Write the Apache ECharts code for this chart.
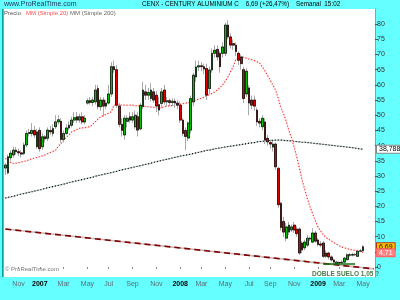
<!DOCTYPE html>
<html><head><meta charset="utf-8">
<script src="https://cdn.jsdelivr.net/npm/echarts@6/dist/echarts.min.js"></script>
<style>html,body{margin:0;padding:0;background:#66ffff}#c{width:400px;height:300px}</style>
</head><body><div id="c"></div>
<script>
// ---- data (weekly candles, CENX) ----
const startDate = [2006, 9, 2];   // first week (Mon 2 Oct 2006)
const weekCount = 140;            // categories on the axis (incl. empty weeks at right)
const opens  = [32.6,31.0,36.0,36.9,38.5,38.0,37.6,37.4,40.2,44.0,44.0,45.0,39.6,45.0,39.6,42.9,42.4,45.0,44.0,46.2,
  47.8,48.0,42.0,44.0,45.8,46.7,48.4,49.5,48.4,49.5,47.8,54.0,54.8,54.2,54.4,58.8,52.8,55.0,53.0,54.0,
  57.0,66.0,65.0,53.0,47.0,43.5,48.0,49.5,48.4,46.2,49.5,45.5,52.8,57.7,56.6,55.5,57.7,56.6,53.5,53.9,
  58.3,54.4,54.8,54.2,54.6,54.0,53.3,48.4,45.0,42.5,45.1,54.4,62.6,65.9,66.3,66.0,65.4,58.8,64.9,70.4,
  71.7,70.4,70.4,70.4,79.7,75.8,73.6,73.1,70.4,69.2,65.0,57.0,59.0,55.0,55.0,51.7,48.0,46.2,47.8,42.4,
  41.0,39.5,40.5,32.5,21.0,15.0,9.5,11.5,12.2,13.8,12.5,12.5,7.9,6.3,7.2,9.5,8.2,11.2,8.9,7.6,
  7.9,3.5,4.6,3.3,2.3,1.1,1.5,1.4,1.6,2.4,4.0,3.9,4.1,3.5,5.2,5.3];
const closes = [33.6,36.3,37.5,38.5,38.0,37.6,37.2,40.2,44.0,44.3,45.0,43.5,44.5,39.0,42.9,42.2,45.1,44.5,45.6,47.8,
  48.5,42.0,44.0,45.8,46.7,48.4,49.2,48.4,49.5,47.8,49.0,54.8,54.2,55.0,58.3,52.8,55.0,53.0,54.0,57.0,
  66.0,65.0,53.3,47.0,45.0,49.0,49.0,48.4,49.5,50.0,45.1,53.3,58.3,56.6,57.5,58.3,55.0,53.0,51.7,57.7,
  54.4,54.8,54.2,54.6,54.0,53.3,48.4,44.0,43.0,47.4,55.5,63.2,65.9,66.3,66.0,65.2,56.6,64.9,70.4,71.4,
  69.2,66.0,72.5,79.7,75.8,73.1,73.1,71.0,68.1,67.0,55.5,64.5,54.0,53.3,53.0,47.8,47.4,49.0,41.8,41.2,
  40.5,40.5,33.0,20.5,13.0,11.5,13.2,13.8,13.2,12.2,11.0,4.6,5.6,8.2,9.5,9.2,11.2,8.5,7.4,7.2,
  3.5,4.6,3.3,2.3,1.6,1.6,1.3,1.6,2.9,4.0,3.9,4.1,4.0,5.2,5.3,6.69];
const lows   = [30.3,30.5,35.0,36.0,37.0,36.5,36.0,36.8,39.5,43.0,43.0,42.5,39.0,38.0,38.5,41.0,41.5,43.5,43.0,45.5,
  47.0,41.0,41.0,43.5,45.0,46.0,47.5,47.5,47.5,47.0,47.0,53.5,53.5,53.0,53.5,52.0,51.5,49.5,52.0,53.5,
  56.0,64.0,52.5,46.0,43.0,42.0,46.0,47.5,47.5,45.5,43.0,45.0,52.0,55.0,55.0,54.5,54.0,51.0,50.0,52.5,
  53.5,53.0,53.0,53.0,52.5,52.0,47.5,43.0,38.5,41.5,44.0,53.0,61.0,64.5,64.5,63.5,55.0,57.0,64.0,69.0,
  68.0,64.0,69.0,69.5,75.0,72.0,71.5,69.5,66.5,65.0,54.0,56.0,50.0,52.0,51.5,46.5,46.0,45.0,40.5,40.0,
  39.0,38.0,32.0,19.5,12.0,9.9,8.5,10.5,11.5,11.2,10.0,4.0,4.5,5.5,6.5,8.5,7.8,8.0,6.8,6.5,
  3.0,3.0,2.5,1.8,1.2,1.05,1.05,1.1,1.3,2.2,3.4,3.5,3.6,3.3,4.9,5.2];
const highs  = [34.2,37.0,38.5,39.6,39.5,39.0,38.5,41.0,45.0,45.5,47.4,46.5,45.5,46.0,44.0,43.5,46.0,46.5,47.0,50.0,
  50.0,49.0,45.0,47.0,48.0,49.5,51.0,51.0,50.5,51.0,50.0,55.5,56.0,56.0,60.0,60.0,56.0,56.0,55.0,60.0,
  67.5,68.0,66.5,54.0,49.0,50.0,50.0,51.0,51.0,51.5,51.0,54.0,61.0,60.0,59.0,60.5,59.0,58.0,56.0,59.0,
  60.0,56.0,55.5,55.5,55.5,55.0,54.5,49.0,46.0,48.0,56.5,64.0,68.0,68.0,67.5,67.0,67.0,66.0,72.0,73.0,
  73.0,71.0,74.0,80.5,81.3,77.0,75.0,74.0,71.0,70.0,66.0,65.5,60.0,56.5,56.5,52.5,49.0,50.0,49.0,43.5,
  42.0,41.5,41.0,33.0,21.5,16.5,14.5,14.8,14.0,14.8,13.5,13.0,8.5,9.0,10.5,10.0,12.8,12.0,9.5,8.5,
  8.5,5.5,5.0,3.8,2.8,2.0,1.8,2.2,3.3,4.5,4.6,4.7,4.6,5.6,6.0,7.1];
const ma20 = [35.8,35.0,34.4,34.1,34.2,34.4,34.6,34.8,35.0,35.3,35.6,35.9,36.1,36.4,36.6,36.9,37.3,37.7,38.1,38.5,
  39.8,40.7,41.8,42.8,43.5,44.5,44.9,45.3,45.7,45.8,45.9,46.1,46.2,47.0,47.9,48.7,49.5,49.9,50.3,50.7,
  51.1,53.3,53.3,53.3,53.3,53.3,53.3,53.3,53.3,53.2,53.1,53.1,53.0,52.9,52.8,52.7,52.6,52.4,52.3,52.5,
  52.8,53.0,53.1,53.2,53.3,53.5,53.6,53.8,54.0,54.1,54.3,54.6,55.0,55.3,55.6,56.0,56.3,56.8,57.2,57.7,
  58.3,59.1,60.0,61.2,62.6,64.3,66.0,68.4,68.9,69.2,69.1,68.8,68.5,68.3,68.0,67.6,67.2,65.9,64.5,63.0,
  61.5,59.9,58.3,55.5,52.5,50.5,48.0,45.0,42.5,39.5,36.2,32.5,28.6,25.5,22.5,19.8,17.5,15.2,13.2,11.8,
  10.6,9.8,9.1,8.6,8.0,7.5,7.0,6.6,6.3,6.0,5.8,5.6,5.5,5.4,5.2,4.8];
const ma200 = [22.7,22.9,23.1,23.3,23.5,23.8,24.0,24.2,24.4,24.6,24.8,25.0,25.2,25.4,25.6,25.9,26.1,26.3,26.5,26.7,
  26.9,27.1,27.3,27.5,27.8,28.0,28.2,28.4,28.6,28.8,29.0,29.2,29.4,29.6,29.9,30.1,30.3,30.5,30.7,30.9,
  31.1,31.3,31.5,31.8,32.0,32.2,32.4,32.6,32.8,33.0,33.2,33.4,33.6,33.8,34.0,34.2,34.5,34.7,34.9,35.1,
  35.3,35.5,35.7,35.9,36.1,36.3,36.5,36.7,36.8,37.0,37.2,37.4,37.6,37.8,38.0,38.2,38.4,38.5,38.7,38.9,
  39.1,39.2,39.4,39.5,39.7,39.8,39.9,40.1,40.2,40.3,40.5,40.6,40.8,40.9,41.0,41.2,41.3,41.4,41.5,41.6,
  41.7,41.7,41.8,41.8,41.8,41.7,41.6,41.6,41.5,41.4,41.3,41.2,41.1,41.1,41.0,40.9,40.8,40.7,40.6,40.5,
  40.4,40.3,40.2,40.1,40.0,39.9,39.8,39.7,39.6,39.5,39.4,39.3,39.2,39.0,38.9,38.8];
const yTicks = [0,5,10,15,20,25,30,35,40,45,50,55,60,65,70,75,80];
const monthNames = ['', 'Feb', 'Mar', 'Apr', 'May', 'Jun', 'Jul', 'Aug', 'Sep', 'Oct', 'Nov', 'Dec'];
const trendEnds = [12.5, -0.62];       // long-term support line, first and last week
const doubleBottom = [120, 132, 1.05]; // from week, to week, price
const lastPrice = 6.69, lastMa20 = 4.71, lastMa200 = 38.788;

// ---- build ----
const dates = [];
for (let i = 0; i < weekCount; i++) {
  const d = new Date(Date.UTC(startDate[0], startDate[1], startDate[2]) + i * 7 * 86400000);
  dates.push(d.toISOString().slice(0, 10));
}
const isLabelWeek = (idx) => {
  const d = new Date(dates[idx] + 'T00:00:00Z');
  return d.getUTCDate() <= 7 && d.getUTCMonth() % 2 === 0;
};
const wickData = closes.map((c, i) => [opens[i], c, lows[i], highs[i]]);
const bodyData = closes.map((c, i) => [opens[i], c, Math.min(opens[i], c), Math.max(opens[i], c)]);
const fmt = v => String(v).replace('.', ',');
const FONT = 'Liberation Sans, Arial, sans-serif';

const chart = echarts.init(document.getElementById('c'), null, {renderer: 'canvas'});
const valueLabel = (v, bg, fg, border) => ({
  yAxis: v,
  lineStyle: {color: 'rgba(0,0,0,0)', width: 0},
  label: {show: true, position: 'end', distance: 2, formatter: fmt(v), fontFamily: FONT, fontSize: 7,
    color: fg, backgroundColor: bg, borderColor: border, borderWidth: 1, padding: [0, 2, 0, 2], lineHeight: 7}
});
chart.setOption({
  animation: false,
  backgroundColor: '#66ffff',
  grid: {left: 4, right: 25, top: 9, bottom: 23, show: true, backgroundColor: '#ffffff', borderWidth: 0},
  xAxis: {
    type: 'category', data: dates, boundaryGap: true,
    axisLine: {show: false},
    axisTick: {show: true, interval: (i) => isLabelWeek(i), length: 2, alignWithLabel: true, lineStyle: {color: '#888'}},
    axisLabel: {
      interval: (i) => isLabelWeek(i), margin: 4, fontFamily: FONT, fontSize: 7,
      formatter: (v) => {
        const d = new Date(v + 'T00:00:00Z');
        const m = d.getUTCMonth();
        return m === 0 ? '{y|' + d.getUTCFullYear() + '}' : '{m|' + monthNames[m] + '}';
      },
      rich: {y: {fontWeight: 'bold', color: '#000', fontSize: 7, fontFamily: FONT},
             m: {color: '#5a6a70', fontSize: 7, fontFamily: FONT}}
    },
    splitLine: {show: false}
  },
  yAxis: {
    type: 'value', position: 'right', min: -3.3, max: 85, scale: true,
    axisLine: {show: true, lineStyle: {color: '#999'}},
    axisTick: {show: true, customValues: yTicks, length: 3, lineStyle: {color: '#555'}},
    axisLabel: {customValues: yTicks, margin: 2, fontFamily: FONT, fontSize: 7, color: '#333'},
    splitLine: {show: false}
  },
  series: [
    {type: 'line', data: ma200, symbol: 'none', silent: true, z: 1,
     lineStyle: {color: '#a8b8b8', width: 1}},
    {type: 'line', data: ma200, symbol: 'none', silent: true, z: 1,
     lineStyle: {color: '#000', width: 1.2, type: [1, 2]}},
    {type: 'line', data: ma20, symbol: 'none', silent: true, z: 1,
     lineStyle: {color: '#ffd6d6', width: 1}},
    {type: 'line', data: ma20, symbol: 'none', silent: true, z: 1,
     lineStyle: {color: '#ff2020', width: 1.2, type: [1, 2]},
     markLine: {silent: true, symbol: ['none', 'none'], animation: false,
       data: [
         [{coord: [dates[0], trendEnds[0]], lineStyle: {color: '#cbb8b8', width: 1.6, type: 'solid'}},
          {coord: [dates[weekCount - 1], trendEnds[1]]}],
         [{coord: [dates[0], trendEnds[0]], lineStyle: {color: '#800000', width: 1.6, type: [6, 4]}},
          {coord: [dates[weekCount - 1], trendEnds[1]]}],
         [{coord: [dates[doubleBottom[0]], doubleBottom[2]], lineStyle: {color: '#107010', width: 1.5, type: 'solid'}},
          {coord: [dates[doubleBottom[1]], doubleBottom[2]]}]
       ],
       label: {show: false}}},
    {type: 'candlestick', data: wickData, barWidth: 2.2, silent: true, z: 3,
     itemStyle: {color: '#a8a8a8', color0: '#a8a8a8', borderColor: '#a8a8a8', borderColor0: '#a8a8a8', borderWidth: 1}},
    {type: 'candlestick', data: bodyData, barWidth: 2.2, silent: true, z: 4,
     itemStyle: {color: '#00c000', color0: '#e00000', borderColor: '#000', borderColor0: '#000', borderColorDoji: '#000', borderWidth: 0.7},
     markLine: {silent: true, symbol: ['none', 'none'], animation: false,
       data: [
         valueLabel(lastMa200, '#ffffff', '#000', '#888'),
         valueLabel(lastPrice, '#ffc000', '#000', '#c03000'),
         valueLabel(lastMa20, '#ff8080', '#ffffff', '#ff6060')
       ]}}
  ],
  graphic: [
    {type: 'rect', shape: {x: 2, y: 9, width: 1.5, height: 268}, style: {fill: '#00a0a0'}, z: 10},
    {type: 'text', x: 4, y: 1, style: {text: 'www.ProRealTime.com', fill: '#1c2c5c', font: '7px ' + FONT}, z: 10},
    {type: 'text', x: 142, y: 1.5, style: {text: 'CENX - CENTURY ALUMINIUM C    6,69 (+26,47%)    Semanal  15:02', fill: '#000', font: '6.3px ' + FONT}, z: 10},
    {type: 'text', x: 4, y: 10.5, style: {text: 'Precio', fill: '#555', font: '6px ' + FONT}, z: 10},
    {type: 'text', x: 26, y: 10.5, style: {text: 'MM (Simple 20)', fill: '#ff5050', font: '6px ' + FONT}, z: 10},
    {type: 'text', x: 70, y: 10.5, style: {text: 'MM (Simple 200)', fill: '#666', font: '6px ' + FONT}, z: 10},
    {type: 'text', x: 5, y: 266.5, style: {text: '© ProRealTime.com', fill: '#777', font: '6px ' + FONT}, z: 10},
    {type: 'text', x: 312, y: 270.5, style: {text: 'DOBLE SUELO 1,05 ?', fill: '#4a7a4a', font: 'bold 6.5px ' + FONT}, z: 10}
  ]
});
</script></body></html>
